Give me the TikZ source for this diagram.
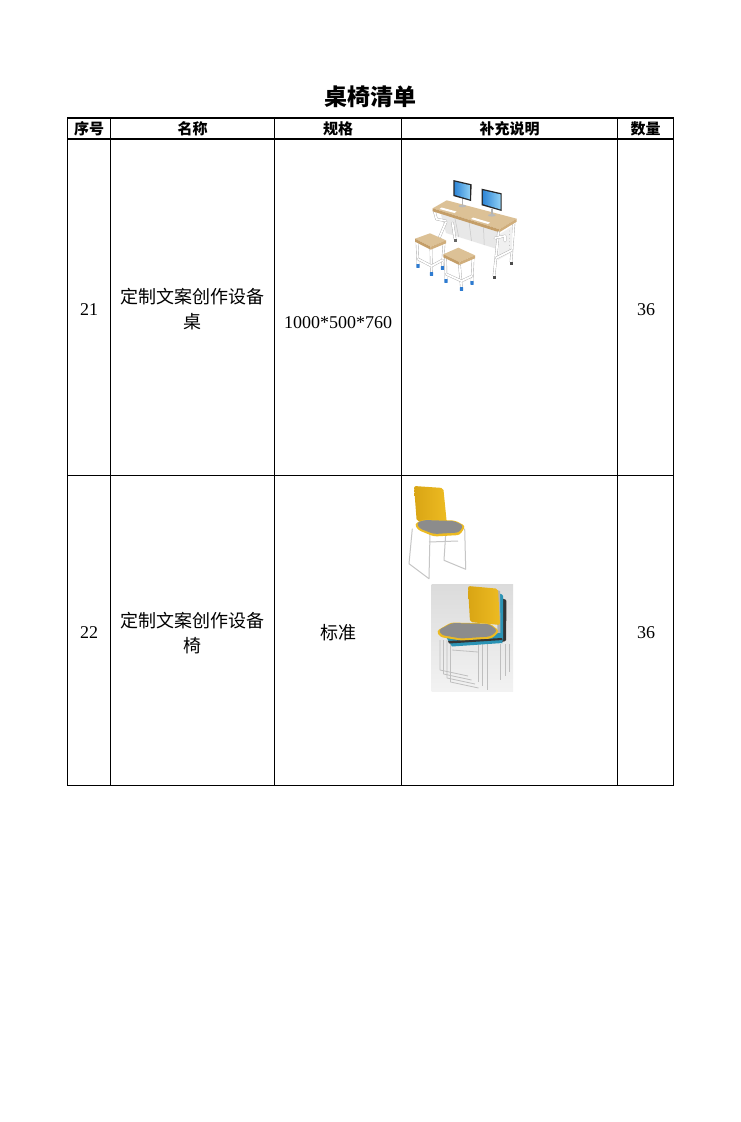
\documentclass[tikz,border=0pt]{standalone}
\usepackage{fontspec}
\usetikzlibrary{calc}
\newfontfamily\cjk{Noto Sans CJK SC}
\newfontfamily\numfont{Liberation Serif}
\definecolor{wood}{HTML}{DCC196}
\definecolor{wooddark}{HTML}{C49E68}
\definecolor{woodmid}{HTML}{D0AE7C}
\definecolor{scrblue}{HTML}{2F86D6}
\definecolor{scrlight}{HTML}{8FD0F5}
\definecolor{footblue}{HTML}{2E7BD0}
\definecolor{chairyel}{HTML}{EDBB22}
\definecolor{chairyeldk}{HTML}{D9A514}
\definecolor{cushion}{HTML}{8C8C8C}
\definecolor{tealc}{HTML}{2A93B5}
\begin{document}
\begin{tikzpicture}[x=1pt,y=-1pt,
  grid/.style={line width=1.6pt, black},
  hdr/.style={font=\cjk\bfseries\fontsize{15}{18}\selectfont, inner sep=0pt},
  body/.style={font=\cjk\fontsize{18}{25}\selectfont, align=center, inner sep=0pt},
  num/.style={font=\numfont\fontsize{18}{20}\selectfont, inner sep=0pt},
  leg/.style={draw=gray!65, double=white, double distance=1.8pt, line width=0.4pt, line cap=round, line join=round},
  rod/.style={draw=gray!45, line width=1pt, line join=round},
  rodw/.style={draw=gray!50, line width=0.8pt, line join=round}
]
\useasboundingbox (0,0) rectangle (741,1122);
\fill[white] (0,0) rectangle (741,1122);

% ---------- title ----------
\node[font=\cjk\bfseries\fontsize{23}{26}\selectfont, inner sep=0pt] (title) at (370.5,97) {桌椅清单};

% ---------- table grid ----------
\draw[grid] (67.5,118) rectangle (673.5,785.5);
\draw[grid] (67.5,139) -- (673.5,139);
\draw[grid] (67.5,475.5) -- (673.5,475.5);
\foreach \x in {110.5,274.5,401.5,617.5} \draw[grid] (\x,118) -- (\x,785.5);

% ---------- header ----------
\node[hdr] (h1) at (89,128.5) {序号};
\node[hdr] (h2) at (192.5,128.5) {名称};
\node[hdr] (h3) at (338,128.5) {规格};
\node[hdr] (h4) at (509.5,128.5) {补充说明};
\node[hdr] (h5) at (645.5,128.5) {数量};

% ---------- row 21 ----------
\node[num] (n21) at (89,310) {21};
\node[body] (name21) at (192.5,309.5) {定制文案创作设备\\桌};
\node[num] (spec21) at (338,323) {1000*500*760};
\node[num] (q21) at (646,310) {36};

% ---------- row 22 ----------
\node[num] (n22) at (89,633) {22};
\node[body] (name22) at (192.5,633.5) {定制文案创作设备\\椅};
\node[body] (spec22) at (338,633) {标准};
\node[num] (q22) at (646,633) {36};

% ---------- desk picture ----------
% back right leg
\draw[leg] (514,221.7) -- (511,262);
\fill[black!70] (509.5,262) rectangle (512.5,264.5);
% cabinet under desk
\fill[gray!18] (440,211) -- (498,232) -- (497,249) -- (446,233) -- cycle;
\foreach \t in {0.25,0.5,0.75}
  \draw[gray!45, line width=0.5pt] ($(440,211)!\t!(498,232)$) -- ($(446,233)!\t!(497,249)$);
% left side frame
\draw[leg] (434,210) -- (436.5,219) -- (446,221);
\draw[leg] (446,222) -- (437,243);
\draw[leg] (452.5,223) -- (455,239);
\fill[black!60] (453.5,239) rectangle (456.5,241.5);
% desk top
\fill[wood] (446.7,200.3) -- (516.7,218.7) -- (499.3,229.3) -- (432.7,208.3) -- cycle;
\fill[wooddark] (432.7,208.3) -- (499.3,229.3) -- (499.3,232.3) -- (432.7,211.3) -- cycle;
\fill[woodmid] (499.3,229.3) -- (516.7,218.7) -- (516.7,221.7) -- (499.3,232.3) -- cycle;
% keyboards
\fill[white] (441.5,207.5) -- (456.5,211.5) -- (454.5,213) -- (439.5,209) -- cycle;
\fill[white] (473,217.5) -- (490,222.5) -- (488,224) -- (471,219) -- cycle;
% monitor 1
\fill[gray!60] (461.5,198) rectangle (463,205);
\fill[gray!55] (462.3,206) ellipse (3.8 and 1.3);
\fill[black!85] (453.3,180) -- (471.7,184.3) -- (471,201) -- (453.3,196) -- cycle;
\shade[left color=scrblue, right color=scrlight] (454.5,181.6) -- (470.5,185.4) -- (470,199.4) -- (454.5,194.8) -- cycle;
% monitor 2
\fill[gray!60] (491,209) rectangle (492.5,214.5);
\fill[gray!55] (491.8,215.3) ellipse (3.8 and 1.3);
\fill[black!85] (481.7,188.7) -- (501.7,193.3) -- (501.7,211) -- (481.7,205.3) -- cycle;
\shade[left color=scrblue, right color=scrlight] (482.9,190.3) -- (500.5,194.4) -- (500.5,209.4) -- (482.9,204.1) -- cycle;
% right side frame
\fill[gray!12] (500,234) -- (512.5,226) -- (512,252) -- (498,260) -- cycle;
\foreach \i in {0,...,5} \fill[gray!55] (509.5,231+3.6*\i) circle (0.45);
\draw[leg] (498.5,232.3) -- (494,276);
\draw[leg] (495,238) -- (505,236) -- (505,241);
\draw[leg] (496,258) -- (512,250);
\fill[black!70] (492.5,276) rectangle (495.5,278.5);

% stool 1
\draw[leg] (417,241) -- (418,265);
\draw[leg] (431,249) -- (431.5,273);
\draw[leg] (444,243) -- (442.5,267);
\draw[leg] (418,259) -- (431.5,266) -- (442.5,260);
\fill[wood] (415,238.7) -- (430,233.3) -- (446,240.3) -- (430.7,246.7) -- cycle;
\fill[wooddark] (415,238.7) -- (430.7,246.7) -- (430.7,249.7) -- (415,241.7) -- cycle;
\fill[woodmid] (430.7,246.7) -- (446,240.3) -- (446,243.3) -- (430.7,249.7) -- cycle;
\fill[footblue, rounded corners=0.5pt] (416.3,264) rectangle (419.7,267.8);
\fill[footblue, rounded corners=0.5pt] (429.8,272) rectangle (433.2,275.8);
\fill[footblue, rounded corners=0.5pt] (440.8,266) rectangle (444.2,269.8);

% stool 2
\draw[leg] (445.5,257) -- (446,280);
\draw[leg] (459.5,265) -- (461.5,288);
\draw[leg] (473,258) -- (472,282);
\draw[leg] (446,274) -- (461.5,281) -- (472,276);
\fill[wood] (443.3,254.3) -- (458.3,247.7) -- (475,255.3) -- (459.3,262) -- cycle;
\fill[wooddark] (443.3,254.3) -- (459.3,262) -- (459.3,265) -- (443.3,257.3) -- cycle;
\fill[woodmid] (459.3,262) -- (475,255.3) -- (475,258.3) -- (459.3,265) -- cycle;
\fill[footblue, rounded corners=0.5pt] (444.3,279) rectangle (447.7,282.8);
\fill[footblue, rounded corners=0.5pt] (459.8,287) rectangle (463.2,290.8);
\fill[footblue, rounded corners=0.5pt] (470.3,281) rectangle (473.7,284.8);

% ---------- single chair ----------
\draw[rod] (412.3,528.7) -- (409,563.7) -- (429,578.7) -- (430,533.7);
\draw[rod] (445.7,533.7) -- (444,560.3) -- (465.7,569.3) -- (464.7,528.7);
\draw[rod] (429,542) -- (458,541);
\shade[left color=chairyeldk, right color=chairyel, rounded corners=2pt]
  (414,486) -- (443.3,488) -- (446.7,522) -- (416.7,521.3) -- cycle;
\fill[chairyel, rounded corners=3pt] (414.5,524) -- (423,519.5) -- (455,520.5) -- (465.5,526) -- (460,535) -- (434,536.5) -- (418,530) -- cycle;
\fill[cushion, rounded corners=3pt] (416.5,523) -- (424,520) -- (454,521) -- (463.5,525.5) -- (459,532.5) -- (434,534) -- (419.5,528.5) -- cycle;

% ---------- chair stack ----------
\shade[top color=gray!28, bottom color=gray!10] (431.5,584.5) rectangle (513,691);
% back layers
\fill[black!80, rounded corners=1pt] (501,598) -- (506.5,600) -- (506,641) -- (501,642) -- cycle;
\fill[tealc, rounded corners=1pt] (498.5,593) -- (503,595) -- (503,641) -- (498.5,641) -- cycle;
\fill[gray!60] (497,590) -- (500,591) -- (500.5,636) -- (497.5,636) -- cycle;
% legs
\foreach \x/\b in {440/670,443.5/674,447/678,450.5/682}
  \draw[rodw] (\x,640) -- (\x,\b) -- ({\x+28},{\b+6});
\foreach \x/\b in {478.5/682,482/686,487/690,500/680,505/676,509/672}
  \draw[rodw] (\x,644) -- (\x,\b);
\draw[rodw] (452,650) -- (478,652);
% yellow back
\shade[left color=chairyeldk, right color=chairyel, rounded corners=2pt]
  (468,586) -- (498,588.7) -- (500,625) -- (470,622) -- cycle;
% under-seat layers
\fill[tealc] (446,637) -- (501,633) -- (502.5,643) -- (452,646.5) -- cycle;
\fill[black!80] (448,641) -- (502,638) -- (502.5,640) -- (449,643.5) -- cycle;
% seat
\fill[chairyel, rounded corners=3pt] (436.5,631) -- (451,622.5) -- (490,623.5) -- (499.5,631) -- (492,638.5) -- (461,640.5) -- (440,637) -- cycle;
\fill[cushion, rounded corners=3pt] (438.5,630) -- (452,623) -- (489,624) -- (497.5,630.5) -- (490.5,636.5) -- (461,638.5) -- (441.5,635) -- cycle;
\end{tikzpicture}
\end{document}
